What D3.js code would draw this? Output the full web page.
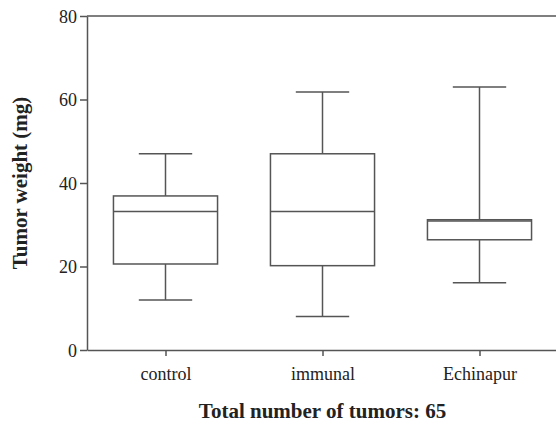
<!DOCTYPE html>
<html><head><meta charset="utf-8">
<script src="https://cdn.jsdelivr.net/npm/d3@7"></script>
<style>
body{margin:0;background:#fff;}
text{font-family:"Liberation Serif","Times New Roman",serif;}
</style></head>
<body><svg id="c" width="556" height="425"></svg>
<script>
const categories = ["control", "immunal", "Echinapur"];
const minVals = [12, 8, 16.1];
const q1Vals = [20.6, 20.2, 26.4];
const medianVals = [33.2, 33.2, 30.9];
const q3Vals = [36.9, 47, 31.2];
const maxVals = [47, 61.8, 63];
const yTicks = [0, 20, 40, 60, 80];
const yTitle = "Tumor weight (mg)";
const xTitle = "Total number of tumors: 65";

const svg = d3.select("#c");
const mLeft = 87, mRight = 558, mTop = 16, mBottom = 350;
const col = "#555";
const sw = 1.5;

const x = d3.scalePoint().domain(categories).range([mLeft, mRight]).padding(0.5);
const y = d3.scaleLinear().domain([0, 80]).range([mBottom, mTop]);
const step = x.step();
const boxW = step * 0.663;
const capW = step * 0.34;

// top border
svg.append("line").attr("x1", mLeft).attr("x2", mRight).attr("y1", y(80)).attr("y2", y(80))
  .attr("stroke", col).attr("stroke-width", sw);

// y axis
const ya = svg.append("g").attr("transform", `translate(${mLeft},0)`)
  .call(d3.axisLeft(y).tickValues(yTicks).tickSize(7).tickSizeOuter(0).tickPadding(3));
// x axis
const xa = svg.append("g").attr("transform", `translate(0,${mBottom})`)
  .call(d3.axisBottom(x).tickSize(6).tickSizeOuter(0).tickPadding(11));
[ya, xa].forEach(g => {
  g.select(".domain").attr("stroke", col).attr("stroke-width", sw);
  g.selectAll(".tick line").attr("stroke", col).attr("stroke-width", sw);
  g.selectAll(".tick text").attr("fill", "#222").style("font-size", "18px")
    .style("font-family", '"Liberation Serif","Times New Roman",serif');
});
ya.selectAll(".tick text").attr("dy", "0.34em");

const data = categories.map((c, i) => ({c, min: minVals[i], q1: q1Vals[i], med: medianVals[i], q3: q3Vals[i], max: maxVals[i]}));

const g = svg.append("g").attr("stroke", col).attr("stroke-width", sw).attr("fill", "none");
data.forEach(d => {
  const cx = x(d.c);
  g.append("line").attr("x1", cx).attr("x2", cx).attr("y1", y(d.max)).attr("y2", y(d.q3));
  g.append("line").attr("x1", cx).attr("x2", cx).attr("y1", y(d.q1)).attr("y2", y(d.min));
  g.append("line").attr("x1", cx - capW/2).attr("x2", cx + capW/2).attr("y1", y(d.max)).attr("y2", y(d.max));
  g.append("line").attr("x1", cx - capW/2).attr("x2", cx + capW/2).attr("y1", y(d.min)).attr("y2", y(d.min));
  g.append("rect").attr("x", cx - boxW/2).attr("width", boxW)
    .attr("y", y(d.q3)).attr("height", y(d.q1) - y(d.q3)).attr("fill", "#fff");
  g.append("line").attr("x1", cx - boxW/2).attr("x2", cx + boxW/2).attr("y1", y(d.med)).attr("y2", y(d.med));
});

svg.append("text").attr("x", (mLeft + mRight) / 2).attr("y", 418).attr("text-anchor", "middle")
  .style("font-size", "21px").style("font-weight", "bold").attr("fill", "#222").text(xTitle);
svg.append("text").attr("transform", `translate(27,${(mTop + mBottom) / 2}) rotate(-90)`)
  .attr("text-anchor", "middle").style("font-size", "21px").style("font-weight", "bold")
  .attr("fill", "#222").text(yTitle);
</script></body></html>
